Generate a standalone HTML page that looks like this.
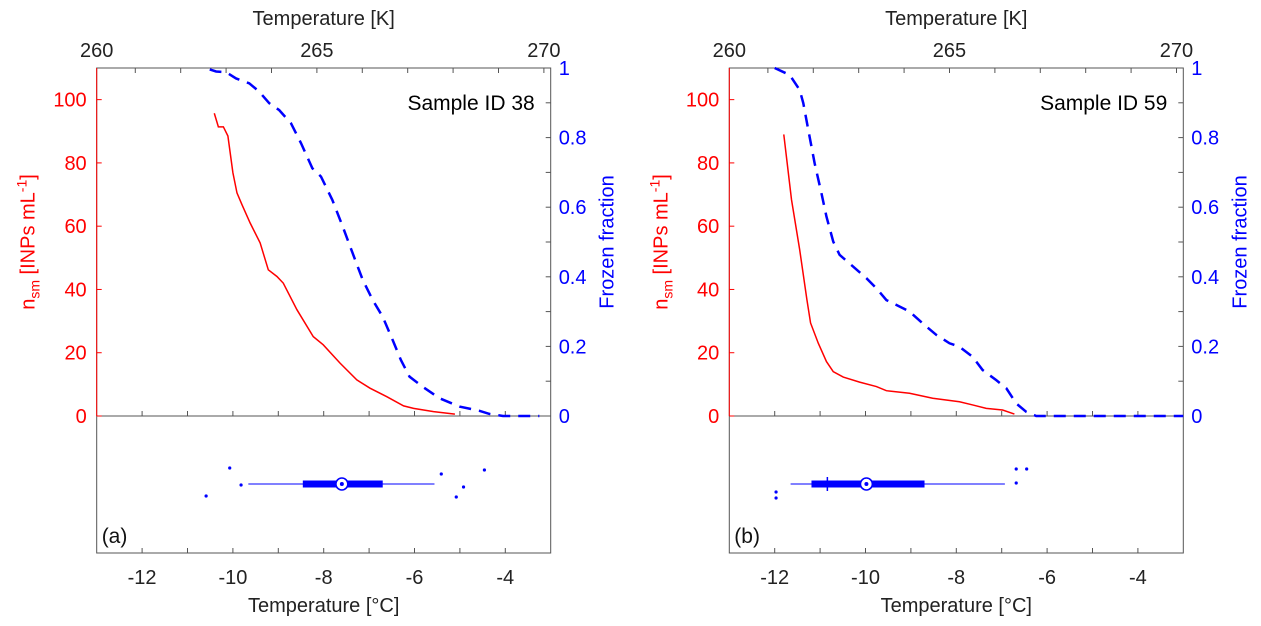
<!DOCTYPE html>
<html><head><meta charset="utf-8"><style>
html,body{margin:0;padding:0;background:#fff;}
svg{display:block;font-family:"Liberation Sans",Arial,sans-serif;}
</style></head><body>
<svg id="fig" width="1261" height="626" viewBox="0 0 1261 626" xmlns="http://www.w3.org/2000/svg"></svg>
<script>
// Panel (a) data
const aRedT=[-10.41,-10.32,-10.21,-10.11,-10.0,-9.91,-9.80,-9.62,-9.40,-9.22,-9.03,-8.89,-8.59,-8.23,-8.01,-7.64,-7.27,-6.98,-6.61,-6.24,-6.02,-5.58,-5.11];
const aRedN=[95.7,91.4,91.4,88.5,76.9,70.5,66.8,61,54.7,46.2,44.1,42,33.6,25.1,22.5,16.7,11.4,8.8,6.1,3.2,2.4,1.4,0.6];
const aBlueT=[-10.51,-10.37,-10.15,-9.93,-9.64,-9.42,-9.2,-8.98,-8.72,-8.50,-8.25,-8.06,-7.81,-7.58,-7.36,-7.14,-6.92,-6.70,-6.48,-6.30,-6.11,-5.82,-5.45,-5.01,-4.57,-4.35,-4.05,-3.25];
const aBlueF=[0.996,0.99,0.988,0.97,0.956,0.932,0.899,0.879,0.841,0.784,0.712,0.688,0.621,0.544,0.467,0.391,0.333,0.285,0.218,0.161,0.113,0.084,0.051,0.027,0.015,0.006,0,0];
const aBox=[-9.66,-8.46,-7.60,-6.70,-5.56]; // whiskerLo, q1, median, q3, whiskerHi
const aOutT=[-10.07,-9.82,-10.59,-5.41,-4.46,-4.92,-5.08];
const aOutJ=[-16,1,12,-10,-14,3,13];
// Panel (b) data
const bRedT=[-11.80,-11.63,-11.45,-11.29,-11.21,-11.04,-10.86,-10.71,-10.49,-10.13,-9.76,-9.54,-9.03,-8.52,-7.93,-7.64,-7.34,-6.98,-6.72];
const bRedN=[89.0,68.4,52.6,36.7,29.4,23.0,17.2,14.0,12.3,10.7,9.3,8.0,7.2,5.6,4.5,3.5,2.4,1.9,0.6];
const bBlueT=[-12.0,-11.67,-11.45,-11.37,-11.26,-11.12,-10.97,-10.86,-10.71,-10.57,-10.27,-9.98,-9.76,-9.54,-9.24,-9.03,-8.74,-8.44,-8.15,-7.93,-7.64,-7.42,-7.12,-6.90,-6.68,-6.46,-6.24,-3.0];
const bBlueF=[1.0,0.98,0.937,0.899,0.822,0.726,0.64,0.573,0.501,0.463,0.429,0.396,0.367,0.333,0.314,0.300,0.266,0.233,0.209,0.199,0.170,0.132,0.103,0.080,0.036,0.012,0,0];
const bBox=[-11.65,-11.19,-9.98,-8.70,-6.93];
const bMeanT=-10.84;
const bOutT=[-11.97,-11.97,-6.68,-6.45,-6.68];
const bOutJ=[8,14,-15,-15,-1];
const xTicks=[-12,-10,-8,-6,-4];
const kTicks=[260,265,270];
const nTicks=[0,20,40,60,80,100];
const fTicks=[0,0.2,0.4,0.6,0.8,1];

const svg=document.getElementById('fig');
const NS='http://www.w3.org/2000/svg';
function el(tag,attrs,parent){const e=document.createElementNS(NS,tag);for(const k in attrs)e.setAttribute(k,attrs[k]);(parent||svg).appendChild(e);return e;}

const TOP=68, ZERO=416, BOT=553, W=454, BOXY=484, FS=20;
function panel(id,x0,redT,redN,blueT,blueF,box,outT,outJ,meanT,label,sample){
  const g=el('g',{});
  
  
  const X=t=>x0+(t+13)/10*W;
  const YN=n=>ZERO-n/110*(ZERO-TOP);
  const YF=f=>ZERO-f*(ZERO-TOP);
  const grey='#555';
  let fr=el('rect',{x:x0,y:TOP,width:W,height:BOT-TOP,fill:'none',stroke:grey,'stroke-width':1},g);
  
  el('line',{x1:x0,y1:ZERO,x2:x0+W,y2:ZERO,stroke:grey,'stroke-width':1},g);
  let la=el('line',{x1:x0,y1:TOP,x2:x0,y2:ZERO,stroke:'#f00','stroke-width':1},g);
  
  for(let t=-12;t<=-4;t++){
    el('line',{x1:X(t),y1:ZERO,x2:X(t),y2:ZERO-5,stroke:grey},g);
    el('line',{x1:X(t),y1:BOT,x2:X(t),y2:BOT-5,stroke:grey},g);
  }
  xTicks.forEach(t=>{const tx=el('text',{x:X(t),y:BOT+31,'font-size':FS,'text-anchor':'middle',fill:'#222'},g);tx.textContent=t;
    });
  let xt=el('text',{x:x0+W/2,y:BOT+59,'font-size':FS,'text-anchor':'middle',fill:'#222'},g);xt.textContent='Temperature [°C]';
  
  for(let k=260;k<=270;k++){const x=X(k-273.15);if(x<x0-0.5)continue;el('line',{x1:x,y1:TOP,x2:x,y2:TOP+5,stroke:grey},g);}
  kTicks.forEach(k=>{const tx=el('text',{x:Math.max(X(k-273.15),x0),y:TOP-11,'font-size':FS,'text-anchor':'middle',fill:'#222'},g);tx.textContent=k;
    });
  let kt=el('text',{x:x0+W/2,y:25,'font-size':FS,'text-anchor':'middle',fill:'#222'},g);kt.textContent='Temperature [K]';
  
  nTicks.forEach(n=>{el('line',{x1:x0,y1:YN(n),x2:x0+5,y2:YN(n),stroke:'#f00'},g);
    const tx=el('text',{x:x0-10,y:YN(n)+7,'font-size':FS,'text-anchor':'end',fill:'#f00'},g);tx.textContent=n;
    });
  let lt=el('text',{transform:`translate(${x0-62},${(TOP+ZERO)/2}) rotate(-90)`,'font-size':FS,'text-anchor':'middle',fill:'#f00'},g);
  
  lt.innerHTML='n<tspan font-size="14" dy="5">sm</tspan><tspan dy="-5"> [INPs mL</tspan><tspan font-size="14" dy="-8">-1</tspan><tspan dy="8">]</tspan>';
  for(let i=0;i<=10;i++){const y=YF(i/10);el('line',{x1:x0+W,y1:y,x2:x0+W-5,y2:y,stroke:grey},g);}
  fTicks.forEach(f=>{const tx=el('text',{x:x0+W+8,y:YF(f)+7,'font-size':FS,'text-anchor':'start',fill:'#00f'},g);tx.textContent=f;
    });
  let rt=el('text',{transform:`translate(${x0+W+63},${(TOP+ZERO)/2}) rotate(-90)`,'font-size':FS,'text-anchor':'middle',fill:'#00f'},g);rt.textContent='Frozen fraction';
  
  let p=el('polyline',{points:redT.map((t,i)=>X(t)+','+YN(redN[i])).join(' '),fill:'none',stroke:'#f00','stroke-width':1.5},g);
  
  let b=el('polyline',{points:blueT.map((t,i)=>X(t)+','+YF(blueF[i])).join(' '),fill:'none',stroke:'#00f','stroke-width':2.5,'stroke-dasharray':'12,8'},g);
  
  const bp=el('g',{},g);
  el('line',{x1:X(box[0]),y1:BOXY,x2:X(box[4]),y2:BOXY,stroke:'#00f','stroke-width':1},bp);
  el('rect',{x:X(box[1]),y:BOXY-3.5,width:X(box[3])-X(box[1]),height:7,fill:'#00f'},bp);
  el('circle',{cx:X(box[2]),cy:BOXY,r:6,fill:'#fff',stroke:'#00f','stroke-width':1.6},bp);
  el('circle',{cx:X(box[2]),cy:BOXY,r:2,fill:'#00f'},bp);
  if(meanT!==null) el('line',{x1:X(meanT),y1:BOXY-7,x2:X(meanT),y2:BOXY+7,stroke:'#00f','stroke-width':1.5},bp);
  outT.forEach((t,i)=>{const c=el('circle',{cx:X(t),cy:BOXY+outJ[i],r:1.6,fill:'#00f'},bp);
    });
  let pl=el('text',{x:x0+5,y:BOT-10,'font-size':21,fill:'#111'},g);pl.textContent=label;
  
  let sl=el('text',{x:x0+W-16,y:TOP+42,'font-size':21,'text-anchor':'end',fill:'#000'},g);sl.textContent=sample;
  
}
panel('a',96.7,aRedT,aRedN,aBlueT,aBlueF,aBox,aOutT,aOutJ,null,'(a)','Sample ID 38');
panel('b',729.3,bRedT,bRedN,bBlueT,bBlueF,bBox,bOutT,bOutJ,bMeanT,'(b)','Sample ID 59');
</script>
</body></html>
